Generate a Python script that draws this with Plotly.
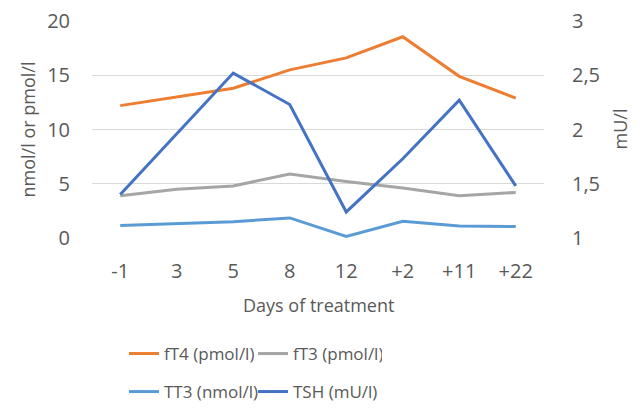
import plotly.graph_objects as go

days = ["-1", "3", "5", "8", "12", "+2", "+11", "+22"]
ft4 = [12.2, 13.0, 13.8, 15.5, 16.6, 18.55, 14.9, 12.9]
ft3 = [3.9, 4.5, 4.8, 5.9, 5.2, 4.6, 3.9, 4.2]
tt3 = [1.15, 1.3, 1.5, 1.85, 0.15, 1.55, 1.1, 1.05]
tsh = [1.40, 1.96, 2.52, 2.23, 1.24, 1.73, 2.27, 1.48]

TXT = "#595959"
FONT = "Open Sans"
FS = 18
TFS = 20

# the page has an 8px body margin; size the figure so it fits the 640x410 window
OFF = 8
W, H = 640 - 2 * OFF, 410 - 2 * OFF
L, T = 92 - OFF, 21 - OFF
R = W - (544 - OFF)
B = H - (238 - OFF)
PW = W - L - R
PH = H - T - B

fig = go.Figure()
fig.add_trace(go.Scatter(x=days, y=ft4, mode="lines", name="fT4 (pmol/l)",
                         line=dict(color="#ED7D31", width=3), legend="legend"))
fig.add_trace(go.Scatter(x=days, y=ft3, mode="lines", name="fT3 (pmol/l)",
                         line=dict(color="#A5A5A5", width=3), legend="legend"))
fig.add_trace(go.Scatter(x=days, y=tt3, mode="lines", name="TT3 (nmol/l)",
                         line=dict(color="#5B9BD5", width=3), legend="legend2"))
fig.add_trace(go.Scatter(x=days, y=tsh, mode="lines", name="TSH (mU/l)",
                         line=dict(color="#4472C4", width=3), yaxis="y2", legend="legend2"))

leg_common = dict(orientation="h", xref="container", yref="container",
                  xanchor="left", x=(124 - OFF) / W, yanchor="middle",
                  font=dict(family=FONT, size=17, color=TXT), bgcolor="rgba(0,0,0,0)",
                  itemwidth=30, tracegroupgap=0, entrywidth=84, entrywidthmode="pixels")


def py(page_y):
    return (H - B - (page_y - OFF)) / PH


def px(page_x):
    return (page_x - OFF - L) / PW


fig.update_layout(
    width=W, height=H,
    margin=dict(l=L, r=R, t=T, b=B, autoexpand=False),
    paper_bgcolor="white", plot_bgcolor="white",
    separators=",.",
    font=dict(family=FONT, size=FS, color=TXT),
    xaxis=dict(type="category", range=[-0.5, 7.5], showgrid=False, showline=False,
               zeroline=False, ticks="", tickfont=dict(size=TFS, color=TXT), automargin=False,
               ticklabelstandoff=19, ticklabeloverflow="allow"),
    yaxis=dict(range=[0, 20], dtick=5, showgrid=True, gridcolor="#D9D9D9", gridwidth=1,
               zeroline=False, showline=False, ticks="", tickfont=dict(size=TFS, color=TXT),
               automargin=False, ticklabelstandoff=21, ticklabeloverflow="allow"),
    yaxis2=dict(range=[1, 3], dtick=0.5, overlaying="y", side="right", showgrid=False,
                zeroline=False, showline=False, ticks="", tickfont=dict(size=TFS, color=TXT),
                automargin=False, ticklabelstandoff=27, ticklabeloverflow="allow"),
    legend=dict(y=1 - (354 - OFF) / H, **leg_common),
    legend2=dict(y=1 - (392 - OFF) / H, **leg_common),
    annotations=[
        dict(text="Days of treatment", xref="paper", yref="paper", x=0.5, y=py(305),
             xanchor="center", yanchor="middle", showarrow=False,
             font=dict(family=FONT, size=FS, color=TXT)),
        dict(text="nmol/l or pmol/l", xref="paper", yref="paper", x=px(27), y=0.5,
             xanchor="center", yanchor="middle", showarrow=False, textangle=-90,
             font=dict(family=FONT, size=FS, color=TXT)),
        dict(text="mU/l", xref="paper", yref="paper", x=px(619), y=0.5,
             xanchor="center", yanchor="middle", showarrow=False, textangle=-90,
             font=dict(family=FONT, size=FS, color=TXT)),
    ],
)

fig.write_html("out.html")
